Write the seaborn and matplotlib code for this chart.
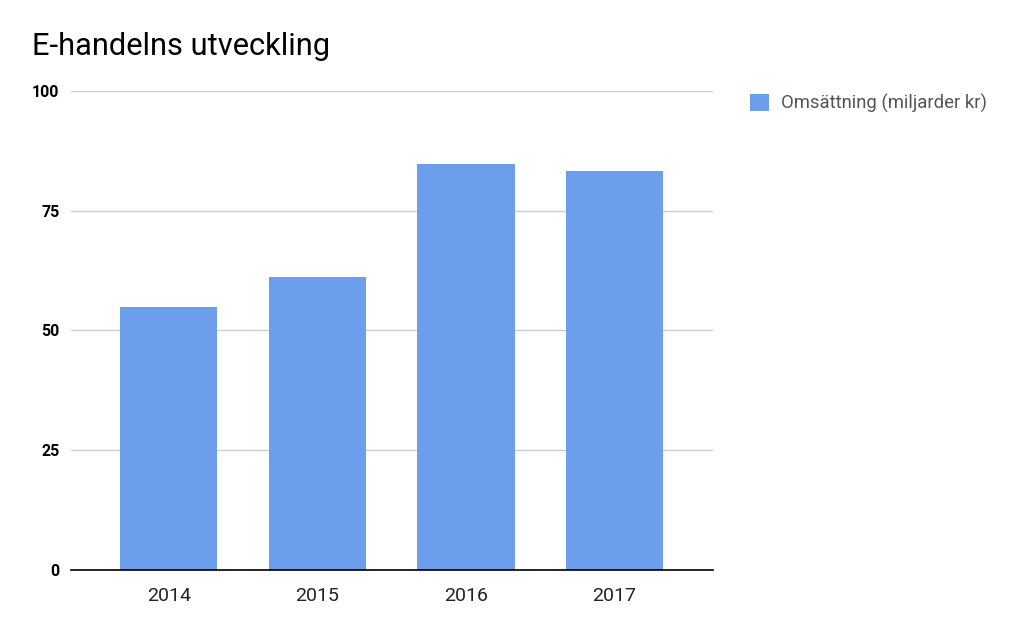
import matplotlib.pyplot as plt
from matplotlib.patches import Patch
import pandas as pd
import seaborn as sns

# data
years = ["2014", "2015", "2016", "2017"]
omsattning = [54.8, 61.2, 84.8, 83.3]
serie_namn = "Omsättning (miljarder kr)"
y_ticks = [0, 25, 50, 75, 100]

bar_color = "#6d9eeb"

sns.set_theme(style="white")
plt.rcParams["font.family"] = ["Roboto", "DejaVu Sans"]

df = pd.DataFrame({"år": years, "värde": omsattning})

fig = plt.figure(figsize=(10.24, 6.33), dpi=100)
ax = fig.add_axes([0.069, 0.0995, 0.627, 0.757])

sns.barplot(data=df, x="år", y="värde", color=bar_color, width=0.655,
            saturation=1, ax=ax, zorder=3, edgecolor="none")

ax.set_xlim(-0.66, 3.66)
ax.set_ylim(0, 100)
ax.set_yticks(y_ticks)
ax.set_yticklabels([str(t) for t in y_ticks], fontweight="bold", fontsize=11.5)
ax.tick_params(axis="y", length=0, pad=8, colors="#000000")
ax.tick_params(axis="x", length=0, pad=12, labelsize=14, colors="#222222")
ax.set_xlabel("")
ax.set_ylabel("")

ax.yaxis.grid(True, color="#cccccc", linewidth=1, zorder=0)
for s in ["top", "right", "left"]:
    ax.spines[s].set_visible(False)
ax.spines["bottom"].set_color("#000000")
ax.spines["bottom"].set_linewidth(1.2)
ax.spines["bottom"].set_zorder(4)

fig.text(0.031, 0.927, "E-handelns utveckling", fontsize=22.2,
         color="#000000", va="center", ha="left")

handles = [Patch(facecolor=bar_color, edgecolor="none", label=serie_namn)]
leg = fig.legend(handles=handles, loc="center left", bbox_to_anchor=(0.716, 0.836),
                 frameon=False, fontsize=13.3, handlelength=1.05, handleheight=1.05,
                 handletextpad=0.65)
for t in leg.get_texts():
    t.set_color("#555555")

fig.savefig("out.png", dpi=100)
